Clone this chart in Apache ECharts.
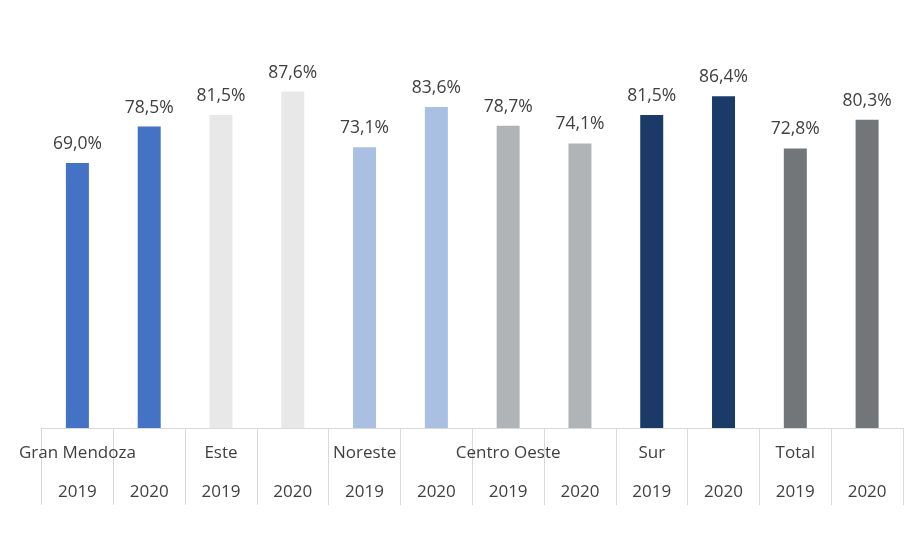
<!DOCTYPE html>
<html><head><meta charset="utf-8">
<script src="https://cdn.jsdelivr.net/npm/echarts@6/dist/echarts.min.js"></script>
<style>html,body{margin:0;padding:0;background:#fff}#c{width:920px;height:558px}</style>
</head><body><div id="c"></div>
<script>
const regions = ["Gran Mendoza", "", "Este", "", "Noreste", "", "Centro Oeste", "", "Sur", "", "Total", ""];
const years = ["2019", "2020", "2019", "2020", "2019", "2020", "2019", "2020", "2019", "2020", "2019", "2020"];
const values = [69.0, 78.5, 81.5, 87.6, 73.1, 83.6, 78.7, 74.1, 81.5, 86.4, 72.8, 80.3];
const colors = ["#4472c4", "#4472c4", "#e8e8e8", "#e8e8e8", "#a9c0e2", "#a9c0e2", "#b1b4b6", "#b1b4b6", "#1a3a68", "#1a3a68", "#727679", "#727679"];

const cats = regions.map((r, i) => r + "\n" + years[i]);
const chart = echarts.init(document.getElementById('c'));
chart.setOption({
  animation: false,
  backgroundColor: '#fff',
  grid: { left: 41.5, right: 17, top: 44, bottom: 130 },
  xAxis: {
    type: 'category',
    data: cats,
    axisLine: { lineStyle: { color: '#d9d9d9', width: 1 } },
    axisTick: { show: true, interval: 0, length: 77, lineStyle: { color: '#d9d9d9' } },
    axisLabel: {
      interval: 0, color: '#404040', fontFamily: 'Open Sans', fontSize: 17,
      lineHeight: 39, margin: 6
    }
  },
  yAxis: { type: 'value', min: 0, max: 100, show: false, splitLine: { show: false } },
  series: [{
    type: 'bar',
    data: values.map((v, i) => ({ value: v, itemStyle: { color: colors[i] } })),
    barWidth: 23,
    label: {
      show: true, position: 'top', distance: 10, color: '#404040',
      fontFamily: 'Open Sans', fontSize: 17.5,
      formatter: p => p.value.toFixed(1).replace('.', ',') + '%'
    }
  }]
});
</script></body></html>
